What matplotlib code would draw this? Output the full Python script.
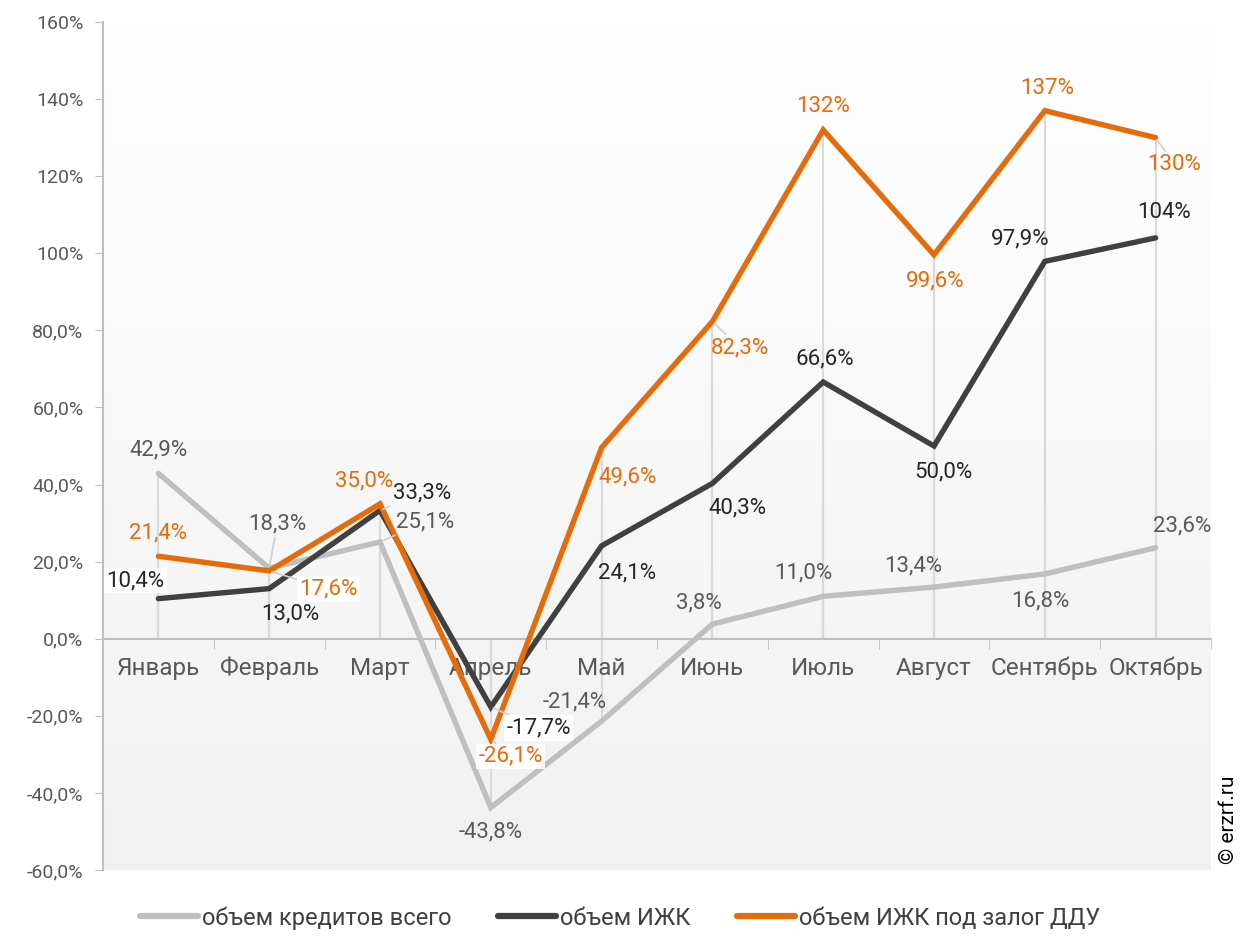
import numpy as np
import matplotlib.pyplot as plt
from matplotlib.lines import Line2D

plt.rcParams['font.family'] = ['Roboto', 'DejaVu Sans']

months = ['Январь', 'Февраль', 'Март', 'Апрель', 'Май', 'Июнь',
          'Июль', 'Август', 'Сентябрь', 'Октябрь']
total = [42.9, 18.3, 25.1, -43.8, -21.4, 3.8, 11.0, 13.4, 16.8, 23.6]
izhk = [10.4, 13.0, 33.3, -17.7, 24.1, 40.3, 66.6, 50.0, 97.9, 104]
ddu = [21.4, 17.6, 35.0, -26.1, 49.6, 82.3, 132, 99.6, 137, 130]
names = ['объем кредитов всего', 'объем ИЖК', 'объем ИЖК под залог ДДУ']
colors = ['#bfbfbf', '#404040', '#e46c0a']
text_colors = ['#595959', '#262626', '#e46c0a']

# label offsets in pixels (dx, dy), leader line flag
offs_total = [(0, 23, 0), (8, 44, 1), (45, 20, 1), (0, -24, 0), (-27, 19, 0),
              (-14, 21, 0), (-20, 23, 0), (-21, 21, 0), (-4, -27, 0), (27, 22, 0)]
offs_izhk = [(-23, 18, 0), (21, -25, 0), (42, 17, 1), (48, -21, 1), (25, -27, 0),
             (25, -25, 0), (2, 23, 0), (9, -26, 0), (-25, 22, 0), (8, 25, 0)]
offs_ddu = [(0, 23, 0), (59, -18, 1), (-16, 23, 0), (20, -17, 1), (26, -29, 0),
            (27, -26, 1), (0, 23, 0), (1, -26, 0), (2, 22, 0), (19, -27, 1)]
boxed = {(1, 0), (1, 3), (2, 1), (2, 3)}


def fmt(v):
    if abs(v) >= 100:
        return f'{v:.0f}%'
    return f'{v:.1f}%'.replace('.', ',')


fig = plt.figure(figsize=(12.51, 9.36), dpi=100)
ax = fig.add_axes([103 / 1251, 66 / 936, 1108 / 1251, 848 / 936])
x = np.arange(len(months))
ax.set_xlim(-0.5, len(months) - 0.5)
ax.set_ylim(-60, 160)

# gradient background
grad = np.linspace(1.0, 0.945, 256).reshape(-1, 1)
ax.imshow(np.dstack([grad, grad, grad]), extent=[-0.5, len(months) - 0.5, -60, 160],
          aspect='auto', zorder=0, interpolation='bilinear')

# drop lines
for s in [total, izhk, ddu]:
    ax.vlines(x, 0, s, color='#d9d9d9', lw=1.5, zorder=1)

series = [total, izhk, ddu]
offsets = [offs_total, offs_izhk, offs_ddu]
for k, (s, c) in enumerate(zip(series, colors)):
    ax.plot(x, s, color=c, lw=3.9, solid_capstyle='round', solid_joinstyle='miter', zorder=3 + k)

for k, s in enumerate(series):
    for i, v in enumerate(s):
        dx, dy, lead = offsets[k][i]
        kw = {}
        if lead:
            kw['arrowprops'] = dict(arrowstyle='-', color='#d0d0d0', lw=1.2,
                                    shrinkA=0, shrinkB=2)
        if (k, i) in boxed:
            kw['bbox'] = dict(boxstyle='square,pad=0.1', fc='white', ec='none', alpha=0.85)
        ax.annotate(fmt(v), (i, v), xytext=(dx, dy), textcoords='offset pixels',
                    ha='center', va='center', fontsize=16, color=text_colors[k],
                    zorder=10, **kw)

# axes styling
yt = np.arange(-60, 161, 20)
ax.set_yticks(yt)
ax.set_yticklabels([fmt(v) for v in yt])
ax.tick_params(axis='y', length=6, color='#bfbfbf', labelsize=14, labelcolor='#595959', pad=8)
ax.set_xticks(x)
ax.set_xticklabels(months)
ax.set_xticks(np.arange(-0.5, len(months)), minor=True)
ax.tick_params(axis='x', which='major', length=0, pad=13, labelsize=17.5, labelcolor='#595959')
ax.tick_params(axis='x', which='minor', length=7, color='#bfbfbf', direction='out')
ax.spines['bottom'].set_position(('data', 0))
ax.spines['bottom'].set_color('#bfbfbf')
ax.spines['bottom'].set_linewidth(1.5)
ax.spines['left'].set_color('#bfbfbf')
ax.spines['left'].set_linewidth(1.5)
ax.spines['top'].set_visible(False)
ax.spines['right'].set_visible(False)

handles = [Line2D([0], [0], color=c, lw=4.5, solid_capstyle='round') for c in colors]
fig.legend(handles, names, loc='center', bbox_to_anchor=(620 / 1251, 18 / 936), ncol=3,
           frameon=False, fontsize=17, handlelength=2.45, handletextpad=0.15,
           columnspacing=2.0, labelcolor='#404040')

fig.text(1228 / 1251, 116 / 936, '© erzrf.ru', rotation=90, ha='center', va='center',
         fontsize=15, color='black')

fig.savefig('out.png', dpi=100)
